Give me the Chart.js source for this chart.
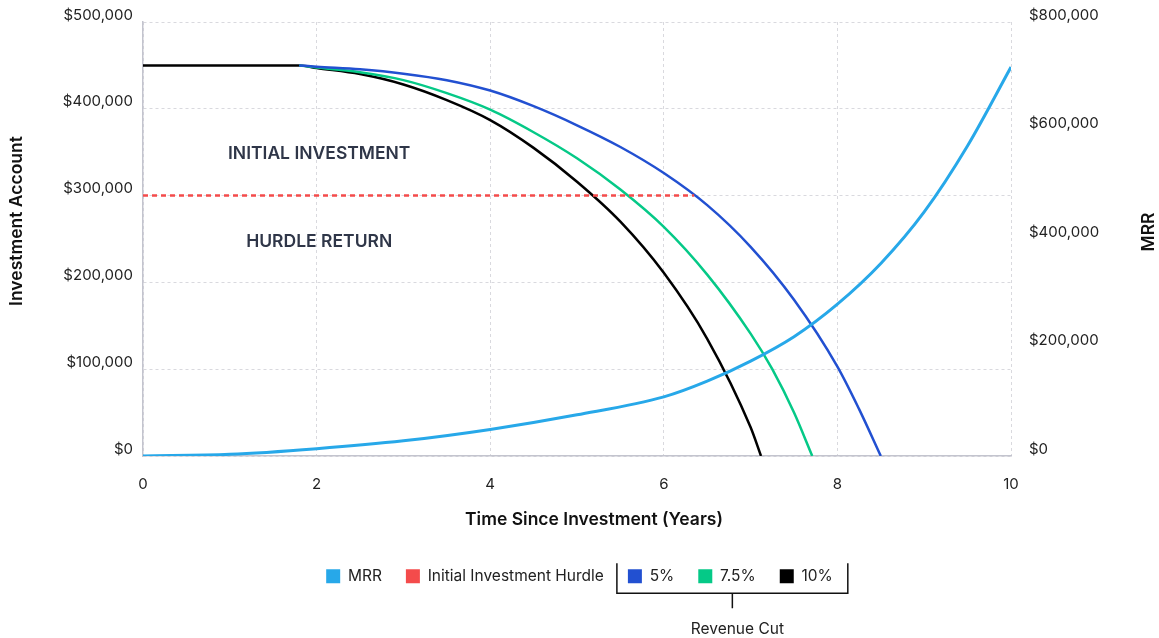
<!DOCTYPE html>
<html>
<head>
<meta charset="utf-8">
<title>Investment Account vs MRR</title>
<script src="https://cdn.jsdelivr.net/npm/chart.js@4.4.1/dist/chart.umd.min.js"></script>
<style>
  html, body { margin: 0; padding: 0; background: #fff; }
  #wrap { width: 1159px; height: 638px; }
</style>
</head>
<body>
<div id="wrap"><canvas id="chart" width="1159" height="638"></canvas></div>
<script>
const FONT = "Inter, Lato, sans-serif";

// Monthly recurring revenue (right axis)
const mrrYears  = [0, 1, 2, 3, 4, 5, 6, 6.5, 7, 7.5, 8, 8.5, 9, 9.5, 10];
const mrrValues = [0, 3000, 13500, 28000, 49000, 76000, 109000, 138000, 175000, 220000, 280000, 355000, 450000, 572000, 717000];

// Initial investment hurdle
const hurdleYears  = [0, 6.35];
const hurdleValues = [300000, 300000];

// Investment account balance for each revenue cut
const cut5Years   = [1.8, 2, 2.5, 3, 3.5, 4, 4.5, 5, 5.5, 6, 6.5, 7, 7.5, 8, 8.25, 8.5];
const cut5Values  = [450000, 448500, 445500, 440500, 433000, 421000, 403000, 381000, 356000, 326000, 289000, 241000, 180000, 103000, 54000, 0];
const cut75Years  = [1.8, 2, 2.5, 3, 3.5, 4, 4.5, 5, 5.5, 6, 6.5, 7, 7.25, 7.5, 7.71];
const cut75Values = [450000, 447500, 442000, 433000, 418000, 399000, 373000, 343000, 307000, 264000, 209000, 141000, 100000, 50000, 0];
const cut10Years  = [0, 1.8, 2, 2.5, 3, 3.5, 4, 4.5, 5, 5.5, 6, 6.5, 7, 7.12];
const cut10Values = [450000, 450000, 447000, 440000, 428000, 410000, 387000, 355000, 316000, 270000, 211000, 135000, 33000, 0];

// Series names and colours
const seriesLabels = ['MRR', 'Initial Investment Hurdle', '5%', '7.5%', '10%'];
const seriesColors = ['#27a8e9', '#f44b4b', '#2250d1', '#05c987', '#000000'];

// Text inside the plot area
const zoneLabels = [
  { text: 'INITIAL INVESTMENT', x: 2.03, y: 348000 },
  { text: 'HURDLE RETURN',      x: 2.03, y: 247000 }
];

const toPoints = (xs, ys) => xs.map((v, i) => ({ x: v, y: ys[i] }));
const money = v => '$' + Number(v).toLocaleString('en-US');

const GRID = '#d9d9de';
const AXIS = '#c3c4ce';
const PAD_BOTTOM = 44;
const TICK_FONT = { family: FONT, size: 15, lineHeight: 0.5 };

const extras = {
  id: 'extras',
  afterDraw(chart) {
    const { ctx, scales: { x, y } } = chart;
    ctx.save();

    // zone captions
    ctx.font = `600 17.5px ${FONT}`;
    ctx.fillStyle = '#2f3648';
    ctx.textAlign = 'center';
    ctx.textBaseline = 'middle';
    zoneLabels.forEach(l => ctx.fillText(l.text, x.getPixelForValue(l.x), y.getPixelForValue(l.y)));

    // axis titles
    ctx.fillStyle = '#111';
    ctx.font = `600 17.5px ${FONT}`;
    ctx.fillText('Time Since Investment (Years)', 594, 520);

    ctx.save();
    ctx.translate(17, 221);
    ctx.rotate(-Math.PI / 2);
    ctx.fillText('Investment Account', 0, 0);
    ctx.restore();

    ctx.save();
    ctx.translate(1149, 232);
    ctx.rotate(-Math.PI / 2);
    ctx.fillText('MRR', 0, 0);
    ctx.restore();

    // bracket grouping the revenue-cut legend entries
    const boxes = chart.legend.legendHitBoxes;
    if (boxes && boxes.length >= 5) {
      const first = boxes[2], last = boxes[4];
      const cy = first.top + first.height / 2;
      const left = first.left - 11;
      const right = last.left + last.width + 15;
      const top = cy - 13;
      const bottom = cy + 17;
      const mid = (left + right) / 2;
      ctx.strokeStyle = '#111';
      ctx.lineWidth = 1.5;
      ctx.beginPath();
      ctx.moveTo(left, top);
      ctx.lineTo(left, bottom);
      ctx.lineTo(right, bottom);
      ctx.lineTo(right, top);
      ctx.moveTo(mid, bottom);
      ctx.lineTo(mid, bottom + 15);
      ctx.stroke();

      ctx.fillStyle = '#222';
      ctx.font = `400 15.5px ${FONT}`;
      ctx.textAlign = 'center';
      ctx.textBaseline = 'middle';
      ctx.fillText('Revenue Cut', mid + 5, cy + 53);
    }
    ctx.restore();
  }
};

new Chart(document.getElementById('chart'), {
  type: 'line',
  data: {
    datasets: [
      {
        label: seriesLabels[0],
        data: toPoints(mrrYears, mrrValues),
        yAxisID: 'y1',
        borderColor: seriesColors[0],
        backgroundColor: seriesColors[0],
        borderWidth: 3,
        cubicInterpolationMode: 'monotone'
      },
      {
        label: seriesLabels[1],
        data: toPoints(hurdleYears, hurdleValues),
        yAxisID: 'y',
        borderColor: seriesColors[1],
        backgroundColor: seriesColors[1],
        borderWidth: 2.5,
        borderDash: [5, 4]
      },
      {
        label: seriesLabels[2],
        data: toPoints(cut5Years, cut5Values),
        yAxisID: 'y',
        borderColor: seriesColors[2],
        backgroundColor: seriesColors[2],
        borderWidth: 2.5,
        cubicInterpolationMode: 'monotone'
      },
      {
        label: seriesLabels[3],
        data: toPoints(cut75Years, cut75Values),
        yAxisID: 'y',
        borderColor: seriesColors[3],
        backgroundColor: seriesColors[3],
        borderWidth: 2.5,
        cubicInterpolationMode: 'monotone'
      },
      {
        label: seriesLabels[4],
        data: toPoints(cut10Years, cut10Values),
        yAxisID: 'y',
        borderColor: seriesColors[4],
        backgroundColor: seriesColors[4],
        borderWidth: 2.5,
        cubicInterpolationMode: 'monotone'
      }
    ]
  },
  options: {
    responsive: false,
    animation: false,
    devicePixelRatio: 1,
    elements: { point: { radius: 0 } },
    layout: { padding: { top: 22, bottom: PAD_BOTTOM, left: 0, right: 0 } },
    plugins: {
      tooltip: { enabled: false },
      legend: {
        position: 'bottom',
        labels: {
          font: { family: FONT, size: 15.5 },
          color: '#222',
          boxWidth: 14,
          boxHeight: 14,
          padding: 24,
          generateLabels(chart) {
            return chart.data.datasets.map((ds, i) => ({
              text: ds.label,
              fillStyle: ds.borderColor,
              strokeStyle: ds.borderColor,
              lineWidth: 0,
              hidden: false,
              datasetIndex: i,
              fontColor: '#222'
            }));
          }
        }
      }
    },
    scales: {
      x: {
        type: 'linear',
        min: 0,
        max: 10,
        ticks: { stepSize: 2, padding: 19, color: '#222', font: { family: FONT, size: 15 } },
        grid: { color: GRID, drawTicks: false },
        border: { display: true, color: AXIS, width: 1.5, dash: [3, 3] },
        afterFit(scale) {
          scale.height = 638 - 456 - PAD_BOTTOM - scale.chart.legend.height;
        }
      },
      y: {
        position: 'left',
        min: 0,
        max: 500000,
        ticks: {
          stepSize: 100000,
          padding: 10,
          labelOffset: -7,
          color: '#222',
          font: TICK_FONT,
          callback: money
        },
        grid: { color: GRID, drawTicks: false },
        border: { display: true, color: AXIS, width: 1.5, dash: [3, 3] },
        afterFit(scale) { scale.width = 143; }
      },
      y1: {
        position: 'right',
        min: 0,
        max: 800000,
        ticks: {
          stepSize: 200000,
          padding: 18,
          labelOffset: -7,
          color: '#222',
          font: TICK_FONT,
          callback: money
        },
        grid: { drawOnChartArea: false, drawTicks: false },
        border: { display: false },
        afterFit(scale) { scale.width = 148; }
      }
    }
  },
  plugins: [extras]
});
</script>
</body>
</html>
